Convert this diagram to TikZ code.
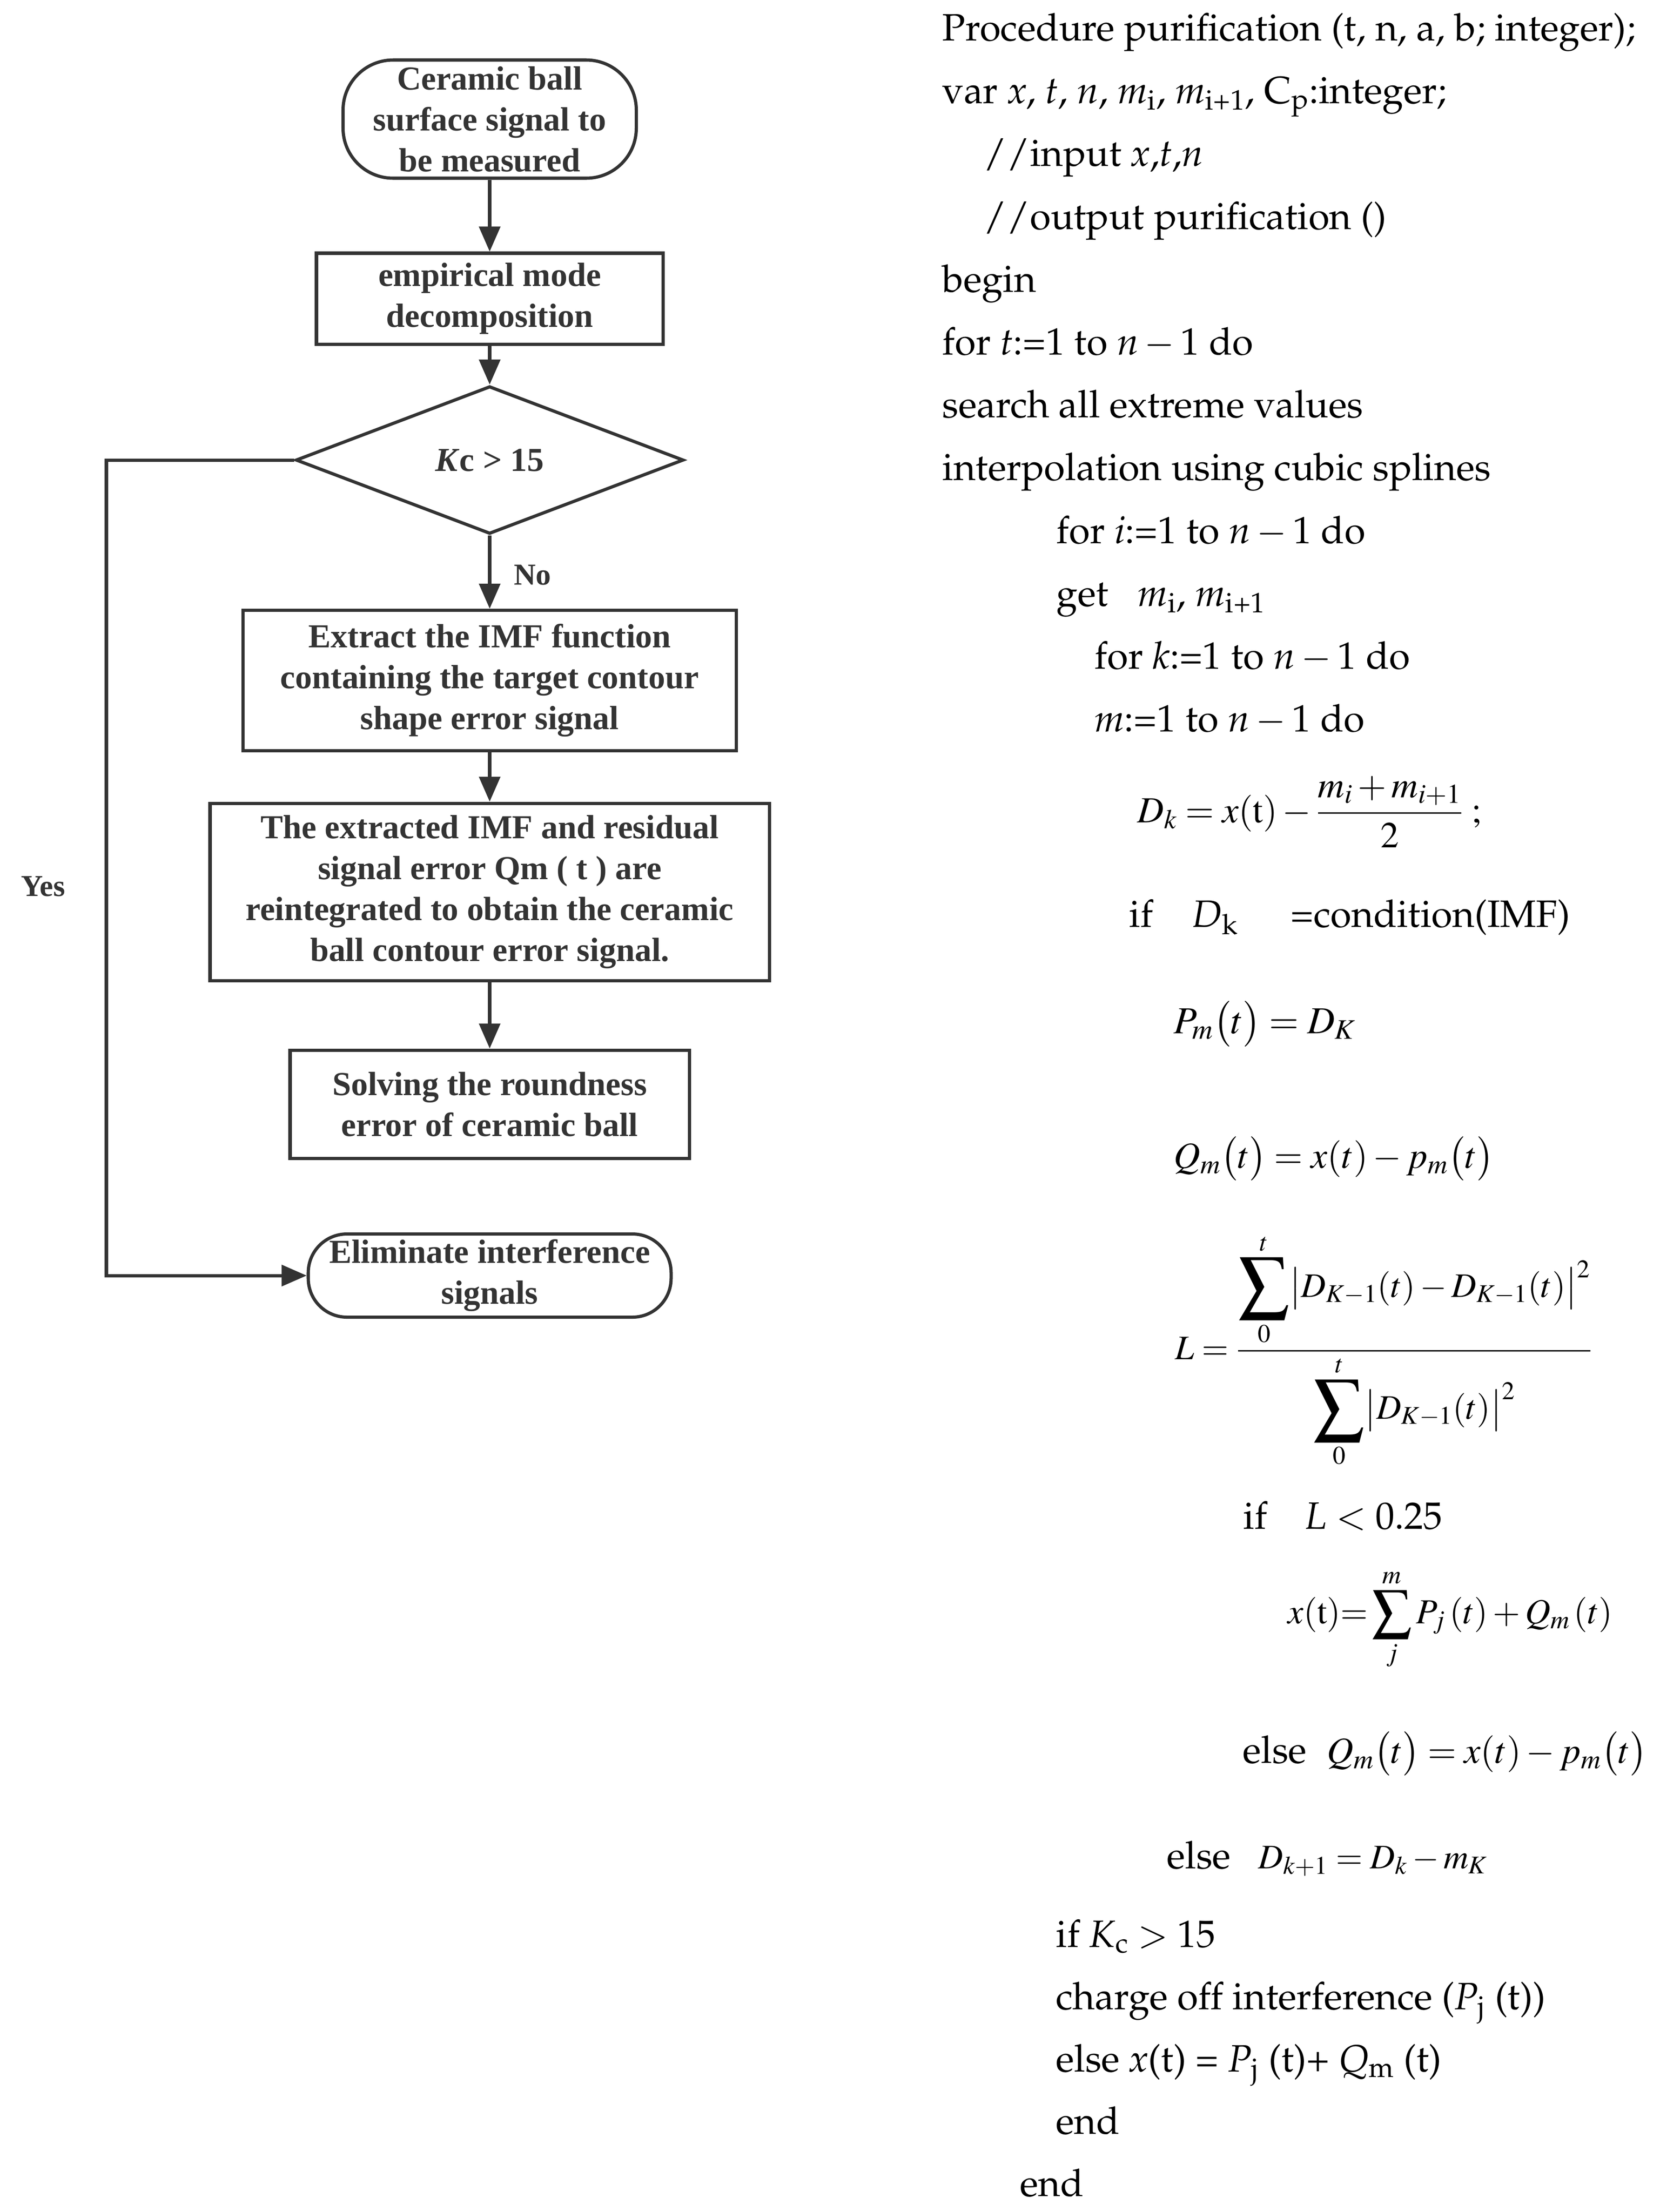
\documentclass[tikz,border=0pt]{standalone}
\usepackage[T1]{fontenc}
\usepackage{amsmath}
\usepackage{graphicx}
\usepackage{mathptmx}
\usepackage[no-math]{fontspec}
\setmainfont{Liberation Serif}
\usetikzlibrary{shapes.geometric,arrows.meta}
\definecolor{ink}{HTML}{333333}
\newcommand{\pala}{\fontencoding{T1}\fontfamily{ppl}\selectfont}
\newcommand{\minus}{\,$-$\,}
\newcommand{\bigsum}[1]{\mathop{\vcenter{\hbox{\scalebox{#1}{$\sum$}}}}\limits}
\newcommand{\msize}[1]{\fontsize{#1}{39}\selectfont}
\tikzset{
  chart/.style={draw=ink, line width=2pt, text=ink, align=center, inner sep=0pt,
    font=\fontsize{21}{25.6}\selectfont\bfseries},
  box/.style={chart, rectangle},
  term/.style={chart, rectangle, rounded corners=0.85cm},
  dec/.style={chart, diamond},
  arr/.style={draw=ink, line width=2pt, -{Triangle[length=0.55cm,width=0.46cm]}},
  lbl/.style={text=ink, inner sep=0pt, font=\fontsize{19}{23}\selectfont\bfseries},
  code/.style={anchor=base west, inner sep=0pt, font=\pala\fontsize{23.85}{39}\selectfont},
}
\begin{document}
\begin{tikzpicture}
	\useasboundingbox (0,0) rectangle (36.5,-48.66);

	% Flowchart
	\node[term, rounded corners=1.1cm, minimum width=6.45cm, minimum height=2.6cm] (start) at (10.77,-2.62) {Ceramic ball\\surface signal to\\be measured};
	\node[box, minimum width=7.62cm, minimum height=2.0cm] (emd) at (10.77,-6.57) {empirical mode\\decomposition};
	\node[dec, minimum width=8.53cm, minimum height=3.25cm] (kc) at (10.77,-10.12) {\textit{K}c > 15};
	\node[box, minimum width=10.85cm, minimum height=3.09cm] (extract) at (10.77,-14.97) {Extract the IMF function\\containing the target contour\\shape error signal};
	\node[box, minimum width=12.3cm, minimum height=3.9cm] (merge) at (10.77,-19.62) {The extracted IMF and residual\\signal error Qm ( t ) are\\reintegrated to obtain the ceramic\\ball contour error signal.};
	\node[box, minimum width=8.78cm, minimum height=2.38cm] (solve) at (10.77,-24.29) {Solving the roundness\\error of ceramic ball};
	\node[term, minimum width=7.98cm, minimum height=1.83cm] (elim) at (10.77,-28.06) {Eliminate interference\\signals};

	\coordinate (yesturn) at (2.34,-10.12);
	\node[lbl] (yes) at (0.95,-19.5) {Yes};
	\node[lbl] (no) at (11.71,-12.65) {No};

	\draw[arr] (start) -- (emd);
	\draw[arr] (emd) -- (kc);
	\draw[arr] (kc) -- (extract);
	\draw[arr] (extract) -- (merge);
	\draw[arr] (merge) -- (solve);
	\draw[arr] (kc.west) -- (yesturn) |- (elim.west);

	% Procedure
	\node[code] (p1) at (20.72,-0.89) {Procedure purification (t, n, a, b; integer);};
	\node[code] (p2) at (20.72,-2.27) {var \textit{x}, \textit{t}, \textit{n}, \textit{m}\textsubscript{i}, \textit{m}\textsubscript{i+1}, C\textsubscript{p}:integer;};
	\node[code] (p3) at (21.63,-3.65) {//input \textit{x},\textit{t},\textit{n}};
	\node[code] (p4) at (21.63,-5.04) {//output purification ()};
	\node[code] (p5) at (20.72,-6.42) {begin};
	\node[code] (p6) at (20.72,-7.80) {for \textit{t}:=1 to \textit{n}\minus1 do};
	\node[code] (p7) at (20.72,-9.18) {search all extreme values};
	\node[code] (p8) at (20.72,-10.56) {interpolation using cubic splines};
	\node[code] (p9) at (23.23,-11.95) {for \textit{i}:=1 to \textit{n}\minus1 do};
	\node[code] (p10) at (23.23,-13.33) {get\hspace{0.65cm}\textit{m}\textsubscript{i}, \textit{m}\textsubscript{i+1}};
	\node[code] (p11) at (24.07,-14.71) {for \textit{k}:=1 to \textit{n}\minus1 do};
	\node[code] (p12) at (24.07,-16.09) {\textit{m}:=1 to \textit{n}\minus1 do};

	% Formulas
	\node[code] (f1) at (25.01,-18.09) {\msize{23}$D_k = x(\mathrm{t}) - \dfrac{m_i + m_{i+1}}{2}\;;$};
	\node[code] (f2) at (24.83,-20.39) {\makebox[1.39cm][l]{if}\makebox[2.16cm][l]{\textit{D}\textsubscript{k}}=condition(IMF)};
	\node[code] (f3) at (25.81,-22.73) {$P_m\bigl(t\bigr) = D_K$};
	\node[code] (f4) at (25.81,-25.69) {\msize{23}$Q_m\bigl(t\bigr) = x(t) - p_m\bigl(t\bigr)$};
	\node[code] (f5) at (25.84,-29.90) {\msize{21.5}$L = \dfrac{\bigsum{2.1}_0^t \bigl|D_{K-1}(t) - D_{K-1}(t)\bigr|^{2}}{\bigsum{2.1}_0^t \bigl|D_{K-1}(t)\bigr|^{2}}$};
	\node[code] (f6) at (27.34,-33.63) {\makebox[1.37cm][l]{if}\textit{L} $<$ 0.25};
	\node[code] (f7) at (28.32,-35.71) {\msize{22}$x(\mathrm{t}){=}\bigsum{1.6}_j^m P_j\,(t) + Q_m\,(t)$};
	\node[code] (f8) at (27.33,-38.78) {\makebox[1.85cm][l]{else}\msize{23}$Q_m\bigl(t\bigr) = x(t) - p_m\bigl(t\bigr)$};
	\node[code] (f9) at (25.66,-41.10) {\makebox[2.01cm][l]{else}\msize{21.5}$D_{k+1} = D_k - m_K$};

	% Ending
	\node[code] (e1) at (23.22,-42.83) {if \textit{K}\textsubscript{c} $>$ 15};
	\node[code] (e2) at (23.22,-44.20) {charge off interference (\textit{P}\textsubscript{j} (t))};
	\node[code] (e3) at (23.22,-45.57) {else \textit{x}(t) = \textit{P}\textsubscript{j} (t)+ \textit{Q}\textsubscript{m} (t)};
	\node[code] (e4) at (23.22,-46.94) {end};
	\node[code] (e5) at (22.43,-48.31) {end};

\end{tikzpicture}
\end{document}
